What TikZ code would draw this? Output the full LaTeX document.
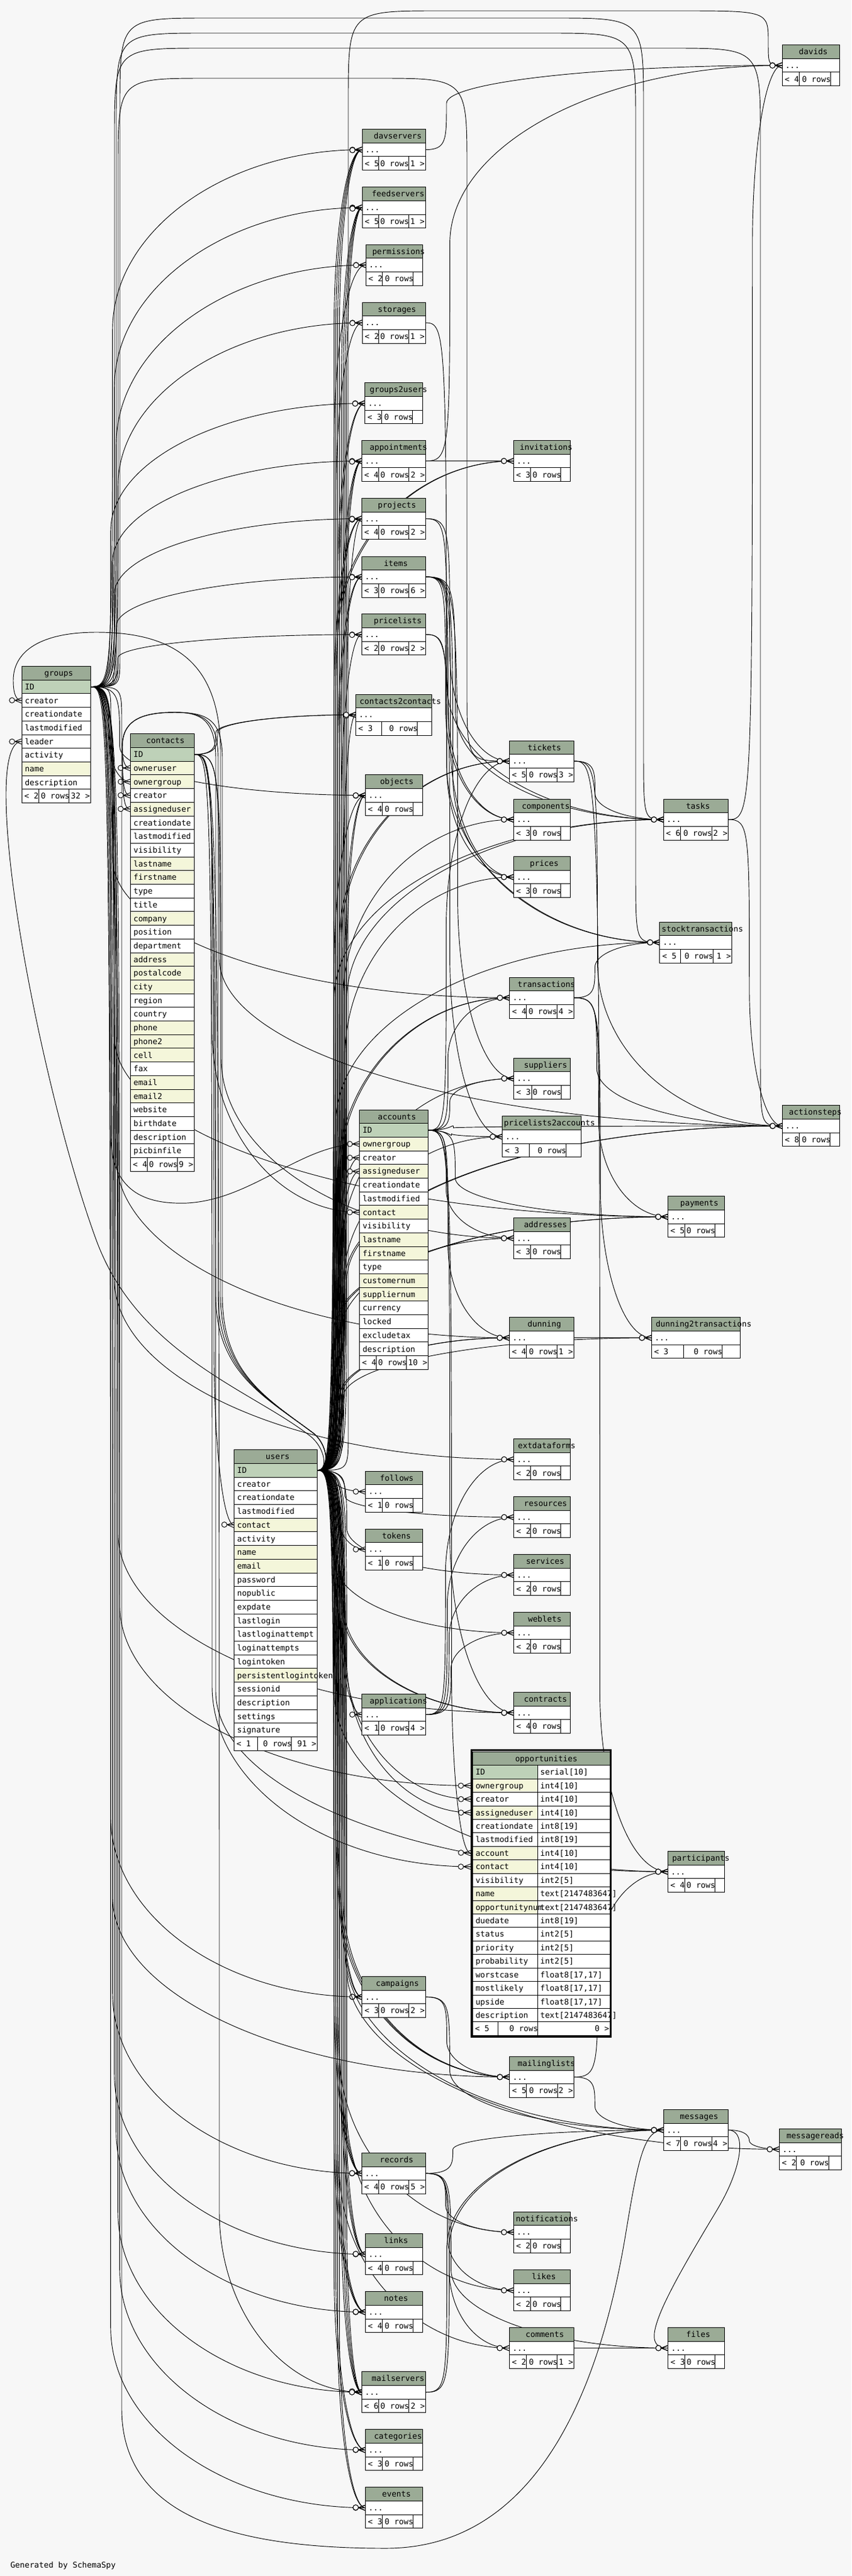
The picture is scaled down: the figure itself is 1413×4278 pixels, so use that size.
\documentclass[tikz,border=0pt]{standalone}
\usepackage{fontspec}
\newfontfamily\tabfont{DejaVu Sans Mono}
\usetikzlibrary{decorations.markings,calc}
\definecolor{bgc}{HTML}{F7F7F7}
\definecolor{hdr}{HTML}{9BAB96}
\definecolor{pkc}{HTML}{BED1B8}
\definecolor{idx}{HTML}{F4F6DA}
\newcount\nch
\def\countch#1{\nch=0 \countchi#1\relax}
\def\countchi#1{\ifx#1\relax\else\advance\nch by 1 \expandafter\countchi\fi}
\newcommand\tfont{\tabfont\fontsize{9.9pt}{11pt}\selectfont}
\newcommand\crowfoot{%
  \draw[line width=0.7pt] (-8.5pt,0pt) -- (0pt,3.3pt) (-8.5pt,0pt) -- (0pt,-3.3pt) (-8.5pt,0pt) -- (0pt,0pt);
  \draw[line width=0.7pt,fill=bgc] (-11.9pt,0pt) circle (3.3pt);}
\tikzset{
  tabtxt/.style={inner sep=0pt,font=\tfont,text height=7.2pt,text depth=0pt},
  tbl/.style={draw=black,line width=0.75pt},
  fkline/.style={draw=black,line width=0.7pt,postaction={decorate,decoration={markings,mark=at position 0.9999 with {\crowfoot}}}}
}
% generic forward connector
\newcommand\fk[3][35]{%
 \draw[fkline] let \p1=(#2),\p2=(#3) in
 (\p1) .. controls ({\x1+#1*0.75pt},\y1) and ({\x1+#1*0.75pt},{\y1+((\y2)-(\y1))/(abs((\y2)-(\y1))+1pt)*12pt}) ..
 ({\x1+#1*0.75pt},{\y2+((\y1)-(\y2))*min(0.45,225pt/(abs((\y1)-(\y2))+1pt))}) ..
 controls ({\x1+#1*0.75pt},{\y2+0.45*((\y1)-(\y2))*min(0.45,225pt/(abs((\y1)-(\y2))+1pt))}) and ({\x2-0.55*((\x2)-(\x1)-#1*0.75pt)},\y2) .. (\p2);}
% groups connector over the top
\newcommand\gtop[5]{%
 \draw[fkline] (groups-ID-e) .. controls (#1,1140.55) and (#1,1140.55) .. (#1,1090) -- (#1,{#3+150}) .. controls (#1,#3) and (#1,#3) .. ({#1+150},#3) -- ({#4-150},#3) .. controls (#4,#3) and (#4,#3) .. (#4,{#3+150}) -- (#4,{#5-120}) .. controls (#4,#5) and (#4,#5) .. (#2);}
% users -> contacts (backward)
\newcommand\ucback[3]{%
 \draw[fkline] (users-ID-e) .. controls (548,2441.75) and (545,2400) .. (520,2380) .. controls (440,2320) and (#1,2280) .. (#1,2150) -- (#1,1260) .. controls (#1,1195) and ({#1-25},1183) .. (290,1183) .. controls (232,1183) and (203,1198) .. (203,1240) .. controls (203,{#3-15}) and (206,#3) .. (#2);}
% small collapsed tables
\newcommand\stabcoord[8]{%
  \coordinate (#1-w) at (#2,{#3+34.05});
  \coordinate (#1-e) at (#4,{#3+34.05});}
\newcommand\hnode[4]{\countch{#1}\pgfmathsetmacro\hx{max(#2+2.5,(#2+#3)/2-3.34*\the\nch)}%
  \node[tabtxt,anchor=west,name=#1-t] at (\hx,{#4+11.35}) {#1};}
\newcommand\stabdraw[8]{%
  \fill[white] (#2,{#3+22.7}) rectangle (#4,{#3+68.1});
  \fill[hdr] (#2,#3) rectangle (#4,{#3+22.7});
  \draw[tbl] (#2,#3) rectangle (#4,{#3+68.1});
  \draw[tbl] (#2,{#3+22.7}) -- (#4,{#3+22.7}) (#2,{#3+45.4}) -- (#4,{#3+45.4}) (#5,{#3+45.4}) -- (#5,{#3+68.1}) (#6,{#3+45.4}) -- (#6,{#3+68.1});
  \hnode{#1}{#2}{#4}{#3}
  \node[tabtxt,anchor=west,name=#1-d] at ({#2+5},{#3+34.05}) {...};
  \node[tabtxt,anchor=west,name=#1-fa] at ({#2+4},{#3+56.75}) {#7};
  \node[tabtxt,anchor=east,name=#1-fb] at ({#6+1},{#3+56.75}) {0 rows};
  \node[tabtxt,anchor=east,name=#1-fc] at ({#4-1},{#3+56.75}) {#8};}
\newcommand\smalltables{%
 \T{davids}{1298}{74.5}{1393.5}{1326}{1378}{< 4}{}
 \T{davservers}{601}{214.5}{706}{628.6}{678}{< 5}{1 >}
 \T{feedservers}{601}{310.6}{706}{628.6}{678}{< 5}{1 >}
 \T{permissions}{607}{406}{701.5}{634}{685.7}{< 2}{}
 \T{storages}{601}{502}{706}{628.6}{678}{< 2}{1 >}
 \T{groups2users}{605.5}{635.7}{701.4}{633.7}{684.5}{< 3}{}
 \T{appointments}{600.3}{731.5}{706.6}{628.1}{678.4}{< 4}{2 >}
 \T{projects}{600.3}{827.4}{706.6}{628.1}{678.4}{< 4}{2 >}
 \T{items}{600.3}{924}{706.6}{628.1}{678.4}{< 3}{6 >}
 \T{pricelists}{600.3}{1019.7}{706.6}{628.1}{678.4}{< 2}{2 >}
 \T{contacts2contacts}{590.4}{1153}{716.5}{633.7}{692.7}{< 3}{}
 \T{objects}{606.4}{1286.7}{701.4}{634.2}{685.3}{< 4}{}
 \T{invitations}{852.3}{731.5}{946}{880.5}{930.8}{< 3}{}
 \T{tickets}{845.3}{1230}{952.5}{873.1}{924.7}{< 5}{3 >}
 \T{components}{852.3}{1327}{946}{880.5}{930.8}{< 3}{}
 \T{prices}{852.3}{1422.5}{946}{880.5}{930.8}{< 3}{}
 \T{tasks}{1101.2}{1327}{1208.7}{1129}{1181}{< 6}{2 >}
 \T{stocktransactions}{1094.8}{1531}{1214.5}{1129.6}{1183}{< 5}{1 >}
 \T{transactions}{845.6}{1623}{952.3}{873.4}{924}{< 4}{4 >}
 \T{suppliers}{852.7}{1757}{946.3}{882}{931}{< 3}{}
 \T{pricelists2accounts}{833.7}{1853.7}{964.2}{878.3}{939.2}{< 3}{}
 \T{actionsteps}{1298.3}{1835.8}{1393.5}{1326}{1377.7}{< 8}{}
 \T{payments}{1108.3}{1986.7}{1202.3}{1136.3}{1186.3}{< 5}{}
 \T{addresses}{852.3}{2022.3}{946.3}{880.3}{930.7}{< 3}{}
 \T{dunning}{845.3}{2187.7}{952.3}{873.7}{924.7}{< 4}{1 >}
 \T{dunning2transactions}{1081.3}{2187.7}{1228.3}{1134.3}{1198.3}{< 3}{}
 \T{extdataforms}{852.6}{2389.5}{946.3}{880.8}{930.6}{< 2}{}
 \T{resources}{852.6}{2485.5}{946.3}{880.8}{930.6}{< 2}{}
 \T{services}{852.6}{2581.5}{946.3}{880.8}{930.6}{< 2}{}
 \T{weblets}{852.6}{2677.5}{946.3}{880.8}{930.6}{< 2}{}
 \T{contracts}{852.6}{2810.4}{946.3}{880.8}{930.6}{< 4}{}
 \T{follows}{606.4}{2443}{701.3}{634.6}{685.6}{< 1}{}
 \T{tokens}{606.4}{2539}{701.3}{634.6}{685.6}{< 1}{}
 \T{applications}{600.6}{2813.4}{706.3}{628.8}{678.5}{< 1}{4 >}
 \T{participants}{1108.3}{3074.3}{1202.3}{1136.3}{1186.3}{< 4}{}
 \T{campaigns}{600.8}{3282.3}{706.4}{628.6}{678.6}{< 3}{2 >}
 \T{mailinglists}{845.6}{3415.3}{952.3}{873.4}{925}{< 5}{2 >}
 \T{messages}{1101.3}{3503.3}{1208.5}{1129.6}{1181.3}{< 7}{4 >}
 \T{messagereads}{1293.4}{3535.3}{1396.8}{1321}{1375}{< 2}{}
 \T{records}{600.3}{3575.3}{706.6}{628.1}{678.4}{< 4}{5 >}
 \T{notifications}{852.3}{3673}{946}{880.5}{930.8}{< 2}{}
 \T{links}{606.4}{3709.6}{701.4}{634.2}{685.3}{< 4}{}
 \T{likes}{852.3}{3769.5}{946}{880.5}{930.8}{< 2}{}
 \T{notes}{606.4}{3805.6}{701.4}{634.2}{685.3}{< 4}{}
 \T{comments}{845.3}{3865.4}{952.5}{873.1}{924.7}{< 2}{1 >}
 \T{files}{1108.6}{3865.4}{1202.2}{1136.3}{1186.6}{< 3}{}
 \T{mailservers}{600.3}{3938.7}{706.6}{628.1}{678.4}{< 6}{2 >}
 \T{categories}{606.4}{4034.6}{701.4}{634.2}{685.3}{< 3}{}
 \T{events}{606.4}{4130.6}{701.4}{634.2}{685.3}{< 3}{}
}
% detailed tables
\newcommand\drows[5]{%
  \foreach \rt/\rc [count=\i] in {#5} {
    \fill[\rc] (#2,{#3+22.7*\i}) rectangle (#4,{#3+22.7*(\i+1)});
    \draw[tbl] (#2,{#3+22.7*\i}) -- (#4,{#3+22.7*\i});
    \node[tabtxt,anchor=west,name=#1-r\i] at ({#2+5},{#3+22.7*\i+11.35}) {\rt};
  }}
\newcommand\dfoot[8]{%
  \fill[white] (#2,#3) rectangle (#4,{#3+22.7});
  \draw[tbl] (#2,#3) -- (#4,#3) (#5,#3) -- (#5,{#3+22.7}) (#6,#3) -- (#6,{#3+22.7});
  \node[tabtxt,anchor=west,name=#1-fa] at ({#2+4},{#3+11.35}) {#7};
  \node[tabtxt,anchor=east,name=#1-fb] at ({#6+1},{#3+11.35}) {0 rows};
  \node[tabtxt,anchor=east,name=#1-fc] at ({#4-1},{#3+11.35}) {#8};}
\begin{document}
\begin{tikzpicture}[x=0.75pt,y=-0.75pt]
\useasboundingbox (0,0) rectangle (1413,4278);
\fill[bgc] (0,0) rectangle (1413,4278);
% ---------- ports ----------
\let\T\stabcoord
\smalltables
\coordinate (groups-ID-e) at (150.7,1140.55);
\coordinate (groups-creator-w) at (36,1163.25);
\coordinate (groups-leader-w) at (36,1231.35);
\coordinate (contacts-ID-e) at (322,1252.85);
\coordinate (contacts-owneruser-w) at (216.3,1275.55);
\coordinate (contacts-ownergroup-w) at (216.3,1298.25);
\coordinate (contacts-creator-w) at (216.3,1320.95);
\coordinate (contacts-assigneduser-w) at (216.3,1343.65);
\coordinate (accounts-ID-e) at (710.5,1877.05);
\coordinate (accounts-ownergroup-w) at (596.5,1899.75);
\coordinate (accounts-creator-w) at (596.5,1922.45);
\coordinate (accounts-assigneduser-w) at (596.5,1945.15);
\coordinate (accounts-contact-w) at (596.5,2013.25);
\coordinate (users-ID-e) at (526.4,2441.75);
\coordinate (users-contact-w) at (388.3,2532.55);
\coordinate (opp-ownergroup-w) at (781,2965.4);
\coordinate (opp-creator-w) at (781,2987.8);
\coordinate (opp-assigneduser-w) at (781,3010.2);
\coordinate (opp-account-w) at (781,3077.5);
\coordinate (opp-contact-w) at (781,3100.0);
% ---------- connectors ----------
% from groups
\foreach \o/\tg in {30/contacts-ownergroup-w,36/davservers-w,39/feedservers-w,42/permissions-w,45/storages-w,33/groups2users-w,36/appointments-w,39/projects-w,42/items-w,45/pricelists-w,48/objects-w,36/transactions-w,39/payments-w,42/dunning-w,45/contracts-w,48/opp-ownergroup-w,33/campaigns-w,36/mailinglists-w,39/links-w,42/notes-w,45/mailservers-w,48/categories-w,33/events-w,36/records-w,39/extdataforms-w}{\fk[\o]{groups-ID-e}{\tg}}
\draw[fkline] (groups-ID-e) .. controls (184,1140.55) and (184,1140.55) .. (184,1190) -- (184,1890) .. controls (186,1985) and (250,2000) .. (310,1998) .. controls (420,1992) and (500,1900) .. (accounts-ownergroup-w);
\draw[fkline] (groups-ID-e) .. controls (202,1140.55) and (202,1140.55) .. (202,1200) -- (202,4000) .. controls (202,4185) and (400,4232) .. (640,4232) .. controls (900,4232) and (1000,3950) .. (1040,3700) .. controls (1060,3580) and (1070,3537.35) .. (messages-w);
\gtop{196}{tickets-w}{130}{775}{1264.05}
\gtop{199}{tasks-w}{30}{1068}{1361.05}
\gtop{193}{stocktransactions-w}{55}{1055}{1565.05}
\gtop{190}{actionsteps-w}{80}{1262}{1869.85}
% from users
\foreach \o/\tg in {30/accounts-creator-w,33/accounts-assigneduser-w,28/davservers-w,31/davservers-w,34/davservers-w,37/davservers-w,40/feedservers-w,43/feedservers-w,46/feedservers-w,49/feedservers-w,28/permissions-w,31/storages-w,34/groups2users-w,37/groups2users-w,40/appointments-w,43/appointments-w,46/appointments-w,49/projects-w,28/projects-w,31/projects-w,34/items-w,37/items-w,40/pricelists-w,43/contacts2contacts-w,46/objects-w,49/objects-w,28/objects-w,31/invitations-w,34/invitations-w,37/tickets-w,40/tickets-w,43/components-w,46/prices-w,49/tasks-w,28/tasks-w,31/stocktransactions-w,34/transactions-w,37/transactions-w,40/suppliers-w,43/pricelists2accounts-w,46/actionsteps-w,49/actionsteps-w,28/payments-w,31/payments-w,34/addresses-w,37/dunning-w,40/dunning-w,43/dunning2transactions-w,46/resources-w,49/services-w,28/weblets-w,31/follows-w,34/tokens-w,37/applications-w,40/contracts-w,43/contracts-w,46/opp-creator-w,49/opp-assigneduser-w,28/participants-w,31/campaigns-w,34/campaigns-w,37/mailinglists-w,40/mailinglists-w,43/mailinglists-w,46/messages-w,49/messagereads-w,28/records-w,31/records-w,34/records-w,37/notifications-w,40/links-w,43/links-w,46/links-w,49/likes-w,28/notes-w,31/notes-w,34/notes-w,37/comments-w,40/mailservers-w,43/mailservers-w,46/mailservers-w,49/mailservers-w,28/categories-w,31/categories-w,34/events-w,37/events-w}{\fk[\o]{users-ID-e}{\tg}}
\draw[fkline] (users-ID-e) .. controls (545,2441.75) and (540,2405) .. (515,2385) .. controls (420,2310) and (230,2250) .. (160,2060) .. controls (90,1870) and (10,1500) .. (10,1320) .. controls (10,1260) and (20,1231.35) .. (groups-leader-w);
\draw[fkline] (users-ID-e) .. controls (548,2441.75) and (545,2400) .. (520,2380) .. controls (440,2320) and (366,2280) .. (366,2150) -- (366,1250) .. controls (366,1110) and (300,1050) .. (160,1050) .. controls (70,1050) and (22,1080) .. (22,1130) .. controls (22,1155) and (28,1163.25) .. (groups-creator-w);
\ucback{358}{contacts-owneruser-w}{1275.55}
\ucback{362}{contacts-creator-w}{1320.95}
\ucback{369}{contacts-assigneduser-w}{1343.65}
\draw[fkline] (users-ID-e) .. controls (578,2441.75) and (578,2441.75) .. (578,2380) -- (578,170) .. controls (578,18) and (578,18) .. (730,18) -- (1125,18) .. controls (1275,18) and (1275,18) .. (1275,70) .. controls (1275,108.55) and (1275,108.55) .. (davids-w);
% from contacts
\foreach \o/\tg in {30/accounts-contact-w,33/users-contact-w,36/contacts2contacts-w,39/contacts2contacts-w,42/actionsteps-w,45/addresses-w,30/opp-contact-w,36/participants-w,42/mailservers-w}{\fk[\o]{contacts-ID-e}{\tg}}
% from accounts
\foreach \o/\tg in {30/tickets-w,33/transactions-w,36/suppliers-w,39/pricelists2accounts-w,42/actionsteps-w,45/payments-w,30/addresses-w,33/dunning-w,36/contracts-w,39/opp-account-w}{\fk[\o]{accounts-ID-e}{\tg}}
% between other tables
\foreach \o/\pa/\tg in {35/davservers-e/davids-w,35/storages-e/stocktransactions-w,35/appointments-e/invitations-w,40/appointments-e/davids-w,35/projects-e/tasks-w,40/projects-e/tickets-w,33/items-e/components-w,37/items-e/components-w,41/items-e/prices-w,45/items-e/stocktransactions-w,49/items-e/tasks-w,53/items-e/suppliers-w,35/pricelists-e/prices-w,40/pricelists-e/pricelists2accounts-w,35/tickets-e/tasks-w,39/tickets-e/actionsteps-w,43/tickets-e/participants-w,35/tasks-e/actionsteps-w,40/tasks-e/davids-w,35/transactions-e/stocktransactions-w,38/transactions-e/actionsteps-w,41/transactions-e/payments-w,44/transactions-e/dunning2transactions-w,35/dunning-e/dunning2transactions-w,33/applications-e/extdataforms-w,36/applications-e/resources-w,39/applications-e/services-w,42/applications-e/weblets-w,35/campaigns-e/mailinglists-w,40/campaigns-e/messages-w,35/mailinglists-e/messages-w,40/mailinglists-e/participants-w,35/mailservers-e/messages-w,39/mailservers-e/messages-w,33/records-e/notifications-w,36/records-e/likes-w,39/records-e/comments-w,42/records-e/files-w,45/records-e/messages-w,35/comments-e/files-w,35/messages-e/messagereads-w}{\fk[\o]{\pa}{\tg}}
\draw[fkline] (messages-e) .. controls (1240,3537.35) and (1232,3600) .. (1190,3670) .. controls (1130,3770) and (1090,3840) .. (1086,3875) .. controls (1084,3895) and (1095,3899.45) .. (files-w);
% ---------- tables ----------
\let\T\stabdraw
\smalltables
% groups
\fill[hdr] (36,1106.5) rectangle (150.7,1129.2);
\hnode{groups}{36}{150.7}{1106.5}
\drows{groups}{36}{1106.5}{150.7}{ID/pkc,creator/white,creationdate/white,lastmodified/white,leader/white,activity/white,name/idx,description/white}
\dfoot{groups}{36}{1310.8}{150.7}{64.3}{114.7}{< 2}{32 >}
\draw[tbl] (36,1106.5) rectangle (150.7,1333.5);
% contacts
\fill[hdr] (216.3,1218.8) rectangle (322,1241.5);
\hnode{contacts}{216.3}{322}{1218.8}
\drows{contacts}{216.3}{1218.8}{322}{ID/pkc,owneruser/idx,ownergroup/idx,creator/white,assigneduser/idx,creationdate/white,lastmodified/white,visibility/white,lastname/idx,firstname/idx,type/white,title/white,company/idx,position/white,department/white,address/idx,postalcode/idx,city/idx,region/white,country/white,phone/idx,phone2/idx,cell/idx,fax/white,email/idx,email2/idx,website/white,birthdate/white,description/white,picbinfile/white}
\dfoot{contacts}{216.3}{1922.5}{322}{244.5}{294.3}{< 4}{9 >}
\draw[tbl] (216.3,1218.8) rectangle (322,1945.2);
% accounts
\fill[hdr] (596.5,1843) rectangle (710.5,1865.7);
\hnode{accounts}{596.5}{710.5}{1843}
\drows{accounts}{596.5}{1843}{710.5}{ID/pkc,ownergroup/idx,creator/white,assigneduser/idx,creationdate/white,lastmodified/white,contact/idx,visibility/white,lastname/idx,firstname/idx,type/white,customernum/idx,suppliernum/idx,currency/white,locked/white,excludetax/white,description/white}
\dfoot{accounts}{596.5}{2251.6}{710.5}{624.3}{674.5}{< 4}{10 >}
\draw[tbl] (596.5,1843) rectangle (710.5,2274.3);
% users
\fill[hdr] (388.3,2407.7) rectangle (526.4,2430.4);
\hnode{users}{388.3}{526.4}{2407.7}
\drows{users}{388.3}{2407.7}{526.4}{ID/pkc,creator/white,creationdate/white,lastmodified/white,contact/idx,activity/white,name/idx,email/idx,password/white,nopublic/white,expdate/white,lastlogin/white,lastloginattempt/white,loginattempts/white,logintoken/white,persistentlogintoken/idx,sessionid/white,description/white,settings/white,signature/white}
\dfoot{users}{388.3}{2884.4}{526.4}{427.7}{483.6}{< 1}{91 >}
\draw[tbl] (388.3,2407.7) rectangle (526.4,2907.1);
% opportunities
\fill[hdr] (784,2909.3) rectangle (1012.3,2931.73);
\hnode{opportunities}{784}{1012.3}{2909.3}
\foreach \ra/\rb/\rc [count=\i] in {ID/{serial[10]}/pkc,ownergroup/{int4[10]}/idx,creator/{int4[10]}/white,assigneduser/{int4[10]}/idx,creationdate/{int8[19]}/white,lastmodified/{int8[19]}/white,account/{int4[10]}/idx,contact/{int4[10]}/idx,visibility/{int2[5]}/white,name/{text[2147483647]}/idx,opportunitynum/{text[2147483647]}/idx,duedate/{int8[19]}/white,status/{int2[5]}/white,priority/{int2[5]}/white,probability/{int2[5]}/white,worstcase/{float8[17,17]}/white,mostlikely/{float8[17,17]}/white,upside/{float8[17,17]}/white,description/{text[2147483647]}/white}{
  \fill[white] (784,{2909.3+22.43*\i}) rectangle (1012.3,{2909.3+22.43*(\i+1)});
  \fill[\rc] (784,{2909.3+22.43*\i}) rectangle (892.3,{2909.3+22.43*(\i+1)});
  \draw[tbl] (784,{2909.3+22.43*\i}) -- (1012.3,{2909.3+22.43*\i});
  \node[tabtxt,anchor=west,name=opp-a\i] at (789,{2909.3+22.43*\i+11.2}) {\ra};
  \node[tabtxt,anchor=west,name=opp-b\i] at (896.3,{2909.3+22.43*\i+11.2}) {\rb};
}
\draw[tbl] (892.3,2931.73) -- (892.3,3380.3);
\fill[white] (784,3357.9) rectangle (1012.3,3380.3);
\draw[tbl] (784,3357.9) -- (1012.3,3357.9) (826.7,3357.9) -- (826.7,3380.3) (892.3,3357.9) -- (892.3,3380.3);
\node[tabtxt,anchor=west,name=opp-fa] at (788,3369.1) {< 5};
\node[tabtxt,anchor=east,name=opp-fb] at (893.3,3369.1) {0 rows};
\node[tabtxt,anchor=east,name=opp-fc] at (1011.3,3369.1) {0 >};
\draw[tbl] (784,2909.3) rectangle (1012.3,3380.3);
\draw[line width=2.25pt] (782.2,2906.8) rectangle (1013.2,3382);
% footer text
\node[tabtxt,anchor=west,name=genby] at (17,4260) {Generated by SchemaSpy};
\end{tikzpicture}
\end{document}
